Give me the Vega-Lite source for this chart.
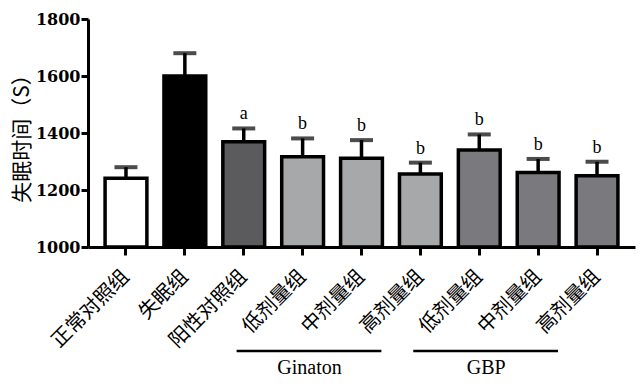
{
  "$schema": "https://vega.github.io/schema/vega-lite/v6.json",
  "autosize": "none",
  "width": 547,
  "height": 228,
  "padding": {"left": 88, "top": 19, "right": 5, "bottom": 139},
  "background": "white",
  "config": {"view": {"stroke": null}},
  "datasets": {
    "bars": [
      {"k": "正常对照组", "mean": 1241, "upper": 1280, "type": "normal", "sig": ""},
      {"k": "失眠组", "mean": 1600, "upper": 1680, "type": "model", "sig": ""},
      {"k": "阳性对照组", "mean": 1369, "upper": 1416, "type": "positive", "sig": "a"},
      {"k": "低剂量组|G", "mean": 1317, "upper": 1381, "type": "Ginaton", "sig": "b"},
      {"k": "中剂量组|G", "mean": 1311, "upper": 1375, "type": "Ginaton", "sig": "b"},
      {"k": "高剂量组|G", "mean": 1256, "upper": 1296, "type": "Ginaton", "sig": "b"},
      {"k": "低剂量组|B", "mean": 1340, "upper": 1395, "type": "GBP", "sig": "b"},
      {"k": "中剂量组|B", "mean": 1261, "upper": 1309, "type": "GBP", "sig": "b"},
      {"k": "高剂量组|B", "mean": 1250, "upper": 1299, "type": "GBP", "sig": "b"}
    ],
    "groups": [
      {"group": "Ginaton", "start": "低剂量组|G", "mid": "中剂量组|G", "end": "高剂量组|G"},
      {"group": "GBP", "start": "低剂量组|B", "mid": "中剂量组|B", "end": "高剂量组|B"}
    ]
  },
  "layer": [
    {
      "data": {"name": "bars"},
      "mark": {"type": "bar", "stroke": "black", "strokeWidth": 3.5},
      "encoding": {
        "x": {
          "field": "k", "type": "nominal", "sort": null,
          "scale": {"paddingInner": 0.29, "paddingOuter": 0.29},
          "axis": {
            "title": null,
            "labelExpr": "split(datum.label, '|')[0]",
            "labelAngle": -45,
            "labelAlign": "right",
            "labelBaseline": "middle",
            "labelFont": "Noto Sans CJK SC",
            "labelFontSize": 20,
            "labelColor": "black",
            "labelPadding": 18,
            "labelOverlap": false,
            "domainColor": "black",
            "domainWidth": 3,
            "tickColor": "black",
            "tickWidth": 3,
            "tickSize": 8
          }
        },
        "y": {
          "field": "mean", "type": "quantitative",
          "scale": {"domain": [1000, 1800], "zero": false, "nice": false},
          "axis": {
            "title": "失眠时间（S）",
            "titleFont": "Noto Sans CJK SC",
            "titleFontSize": 21,
            "titleFontWeight": "normal",
            "titleColor": "black",
            "titleX": -66,
            "titleY": 114,
            "titleAngle": -90,
            "titleAlign": "center",
            "titleBaseline": "middle",
            "values": [1000, 1200, 1400, 1600, 1800],
            "format": "d",
            "labelFont": "DejaVu Serif",
            "labelFontWeight": "bold",
            "labelFontSize": 16,
            "labelColor": "black",
            "labelPadding": 1,
            "grid": false,
            "domainColor": "black",
            "domainWidth": 3,
            "tickColor": "black",
            "tickWidth": 3,
            "tickSize": 7
          }
        },
        "y2": {"datum": 1000},
        "color": {
          "field": "type", "type": "nominal", "legend": null,
          "scale": {
            "domain": ["normal", "model", "positive", "Ginaton", "GBP"],
            "range": ["#ffffff", "#000000", "#5b5b5d", "#a7a8aa", "#7a797e"]
          }
        }
      }
    },
    {
      "data": {"name": "bars"},
      "mark": {"type": "rule", "color": "black", "strokeWidth": 3.5},
      "encoding": {
        "x": {"field": "k", "type": "nominal", "sort": null},
        "y": {"field": "mean", "type": "quantitative"},
        "y2": {"field": "upper"}
      }
    },
    {
      "data": {"name": "bars"},
      "mark": {"type": "tick", "color": "black", "size": 23, "thickness": 4},
      "encoding": {
        "x": {"field": "k", "type": "nominal", "sort": null},
        "y": {"field": "upper", "type": "quantitative"}
      }
    },
    {
      "data": {"name": "bars"},
      "mark": {"type": "text", "font": "Liberation Serif", "fontSize": 18, "baseline": "bottom", "dy": -5, "color": "black"},
      "encoding": {
        "x": {"field": "k", "type": "nominal", "sort": null},
        "y": {"field": "upper", "type": "quantitative"},
        "text": {"field": "sig"}
      }
    },
    {
      "data": {"name": "groups"},
      "mark": {"type": "rule", "color": "black", "strokeWidth": 2.5, "xOffset": -66, "x2Offset": -39},
      "encoding": {
        "x": {"field": "start", "type": "nominal", "sort": null, "bandPosition": 0.5},
        "x2": {"field": "end", "bandPosition": 0.5},
        "y": {"datum": 635}
      }
    },
    {
      "data": {"name": "groups"},
      "mark": {"type": "text", "font": "Liberation Serif", "fontSize": 20, "color": "black", "xOffset": -52, "baseline": "middle"},
      "encoding": {
        "x": {"field": "mid", "type": "nominal", "sort": null, "bandPosition": 0.5},
        "y": {"datum": 575},
        "text": {"field": "group"}
      }
    }
  ]
}
